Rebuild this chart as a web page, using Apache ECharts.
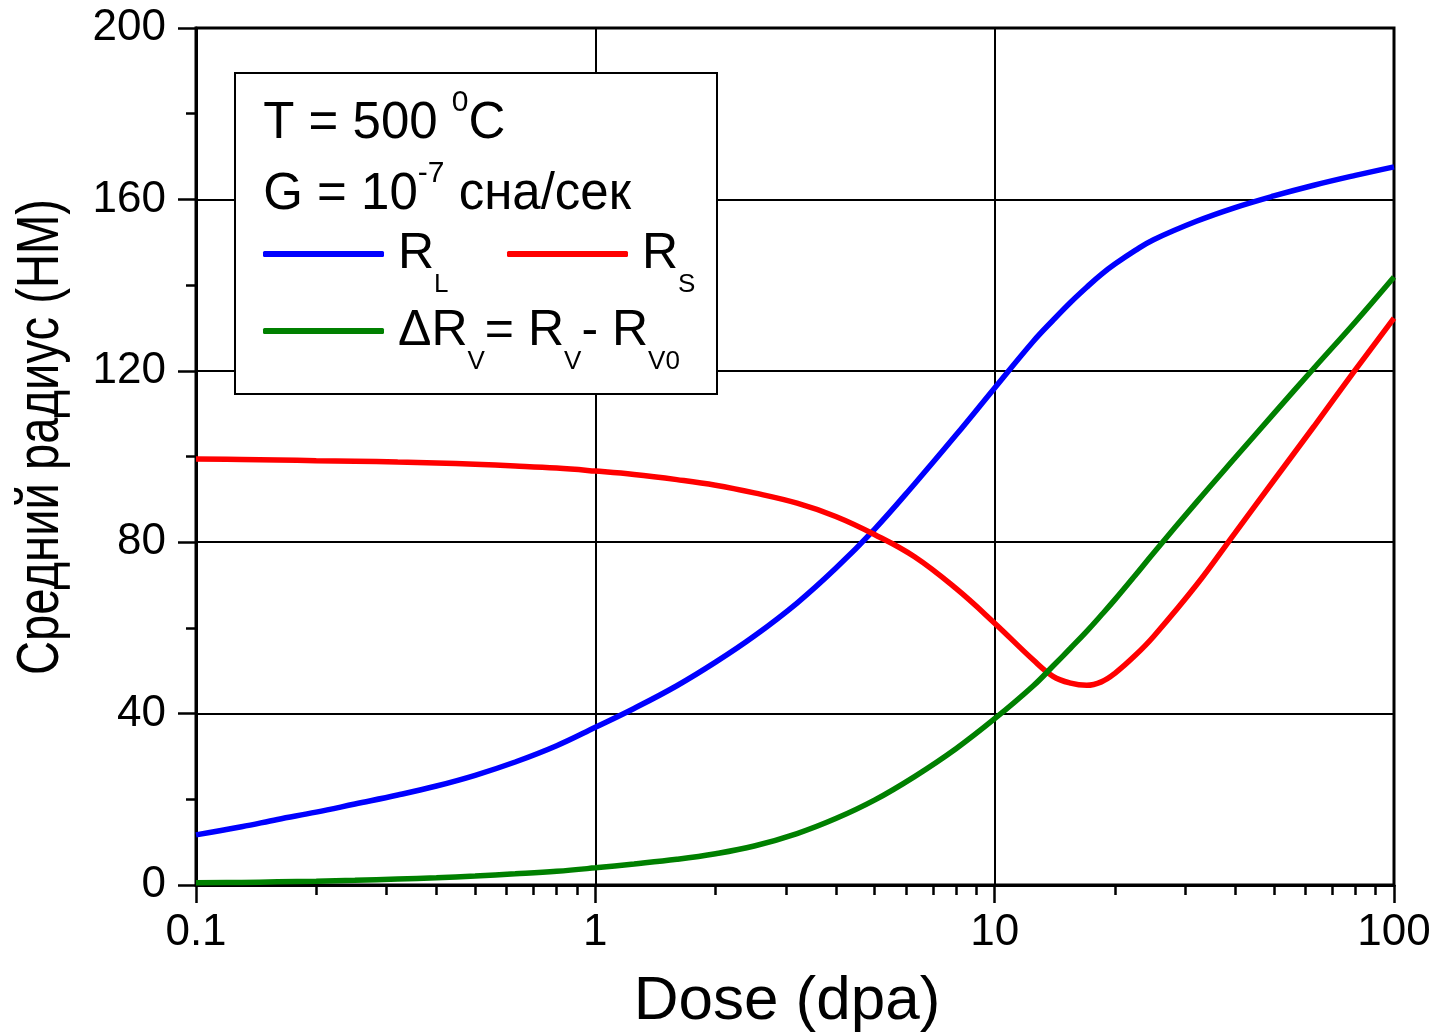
<!DOCTYPE html>
<html>
<head>
<meta charset="utf-8">
<title>Средний радиус</title>
<script src="https://cdn.jsdelivr.net/npm/echarts@6/dist/echarts.min.js"></script>
<style>
  html, body { margin: 0; padding: 0; background: #fff; overflow: hidden; }
  #chart { width: 1433px; height: 1032px; }
</style>
</head>
<body>
<div id="chart"></div>
<script>
// dose, dpa (log axis)
const dose = [0.1, 0.13, 0.16, 0.2, 0.25, 0.32, 0.4, 0.5, 0.63, 0.8,
  1, 1.25, 1.6, 2, 2.5, 3.2, 4, 5, 6.3, 8,
  10, 12.5, 14, 15.5, 17, 18.5, 20, 22.5, 25, 32, 40, 50, 63, 80, 100]
// mean radius, nm
const rL = [11.7, 13.6, 15.3, 17.0, 18.9, 21.0, 23.1, 25.6, 28.7, 32.5,
  36.8, 41.2, 46.5, 52.0, 58.1, 65.8, 73.9, 83.0, 93.6, 105.0,
  116.0, 126.9, 131.8, 136.0, 139.5, 142.5, 144.9, 148.1, 150.6, 154.9, 158.1, 160.8, 163.3, 165.6, 167.6]
const rS = [99.4, 99.3, 99.2, 99.0, 98.9, 98.7, 98.5, 98.2, 97.8, 97.3,
  96.6, 95.8, 94.6, 93.3, 91.5, 89.1, 86, 81.8, 76.6, 69.2,
  61.1, 52.5, 48.7, 47.1, 46.6, 47.4, 49.4, 53.6, 58.0, 70, 82.2, 94.4, 107, 120.2, 132.3]
const dRv = [0.5, 0.6, 0.75, 0.9, 1.1, 1.4, 1.7, 2.1, 2.6, 3.2,
  4.0, 4.9, 6.0, 7.3, 9.1, 12.0, 15.5, 19.8, 25.3, 31.8,
  38.8, 46.5, 51.1, 55.3, 59.2, 63.0, 66.6, 72.3, 77.5, 89.3, 99.7, 110, 120.6, 131.4, 141.9]

const xMajorTicks = [0.1, 1, 10, 100]
const xMinorTicks = [0.2, 0.3, 0.4, 0.5, 0.6, 0.7, 0.8, 0.9, 2, 3, 4, 5, 6, 7, 8, 9, 20, 30, 40, 50, 60, 70, 80, 90]

const FONT = "'Liberation Sans', Arial, sans-serif"

const chart = echarts.init(document.getElementById('chart'))

function pairs(ys) {
  return dose.map((x, i) => [x, ys[i]])
}

// subscript styles for the legend labels
const legendRich = {
  h: { fontSize: 1, lineHeight: 88, width: 9 },
  n: { fontSize: 50, lineHeight: 50, verticalAlign: 'middle', fontFamily: FONT, color: '#000' },
  s: { fontSize: 26, lineHeight: 26, verticalAlign: 'bottom', fontFamily: FONT, color: '#000' }
}

const legendText = {
  'R_L': '{h| }{n|R}{s|L}',
  'R_S': '{h| }{n|R}{s|S}',
  'ΔR_V': '{h| }{n|ΔR}{s|V}{n|= R}{s|V}{n|- R}{s|V0}'
}

function makeLegend(name, left, top) {
  return {
    data: [name],
    left: left,
    top: top,
    padding: 0,
    icon: 'roundRect',
    itemWidth: 121,
    itemHeight: 6,
    z: 200,
    selectedMode: false,
    textStyle: { rich: legendRich },
    formatter: n => legendText[n]
  }
}

// superscript styles for the two header lines
const supRich = {
  h: { fontSize: 1, lineHeight: 61 },
  a: { fontSize: 51, lineHeight: 51, verticalAlign: 'bottom', fontFamily: FONT, fill: '#000' },
  p: { fontSize: 30, lineHeight: 30, verticalAlign: 'top', fontFamily: FONT, fill: '#000' }
}

const option = {
  backgroundColor: '#fff',
  animation: false,
  textStyle: { fontFamily: FONT },
  grid: {
    left: 196, right: 39, top: 28, bottom: 147,
    outerBoundsMode: 'none',
    show: true, borderColor: '#000', borderWidth: 3
  },
  xAxis: [
    {
      type: 'log',
      logBase: 10,
      min: 0.1,
      max: 100,
      name: 'Dose (dpa)',
      nameLocation: 'middle',
      nameGap: 86,
      nameTextStyle: { fontSize: 62, color: '#000', fontFamily: FONT, padding: [0, 16, 0, 0] },
      axisLine: { lineStyle: { color: '#000', width: 3 } },
      axisTick: { customValues: xMajorTicks, length: 18, lineStyle: { color: '#000', width: 2.5 } },
      axisLabel: {
        customValues: xMajorTicks,
        margin: 26,
        fontSize: 44,
        color: '#000',
        fontFamily: FONT,
        formatter: v => String(+v.toPrecision(3))
      },
      splitLine: { show: true, lineStyle: { color: '#000', width: 2 } }
    },
    {
      type: 'log',
      logBase: 10,
      min: 0.1,
      max: 100,
      position: 'bottom',
      axisLine: { show: false },
      axisTick: { customValues: xMinorTicks, length: 10, lineStyle: { color: '#000', width: 2.5 } },
      axisLabel: { show: false },
      splitLine: { show: false }
    }
  ],
  yAxis: {
    type: 'value',
    min: 0,
    max: 200,
    interval: 40,
    axisLine: { show: true, lineStyle: { color: '#000', width: 3 } },
    axisTick: { show: true, length: 18, lineStyle: { color: '#000', width: 2.5 } },
    minorTick: { show: true, splitNumber: 2, length: 10, lineStyle: { color: '#000', width: 2.5 } },
    axisLabel: { margin: 30, fontSize: 44, color: '#000', fontFamily: FONT },
    splitLine: { show: true, lineStyle: { color: '#000', width: 2 } }
  },
  legend: [
    makeLegend('R_L', 263, 229),
    makeLegend('R_S', 507, 229),
    makeLegend('ΔR_V', 263, 306)
  ],
  graphic: [
    {
      type: 'rect',
      z: 100,
      shape: { x: 235, y: 73, width: 482, height: 321 },
      style: { fill: '#fff', stroke: '#000', lineWidth: 2 }
    },
    {
      type: 'text',
      z: 150,
      x: 263,
      y: 88,
      style: { text: '{h| }{a|T = 500 }{p|0}{a|C}', rich: supRich, verticalAlign: 'top' }
    },
    {
      type: 'text',
      z: 150,
      x: 263,
      y: 159,
      style: { text: '{h| }{a|G = 10}{p|-7}{a| сна/сек}', rich: supRich, verticalAlign: 'top' }
    },
    {
      // y axis title, narrowed along its length like the original
      type: 'text',
      z: 150,
      x: 42,
      y: 437,
      rotation: Math.PI / 2,
      scaleX: 0.8,
      style: {
        text: 'Средний радиус (НМ)',
        fontSize: 59,
        fontFamily: FONT,
        fill: '#000',
        align: 'center',
        verticalAlign: 'middle'
      }
    }
  ],
  series: [
    {
      name: 'R_L',
      type: 'line',
      data: pairs(rL),
      smooth: 0.4,
      symbol: 'none',
      lineStyle: { color: '#0000ff', width: 5.5 },
      itemStyle: { color: '#0000ff' },
      z: 10
    },
    {
      name: 'R_S',
      type: 'line',
      data: pairs(rS),
      smooth: 0.4,
      symbol: 'none',
      lineStyle: { color: '#ff0000', width: 5.5 },
      itemStyle: { color: '#ff0000' },
      z: 11
    },
    {
      name: 'ΔR_V',
      type: 'line',
      data: pairs(dRv),
      smooth: 0.4,
      symbol: 'none',
      lineStyle: { color: '#008000', width: 5.5 },
      itemStyle: { color: '#008000' },
      z: 12
    }
  ]
}

chart.setOption(option)
</script>
</body>
</html>
